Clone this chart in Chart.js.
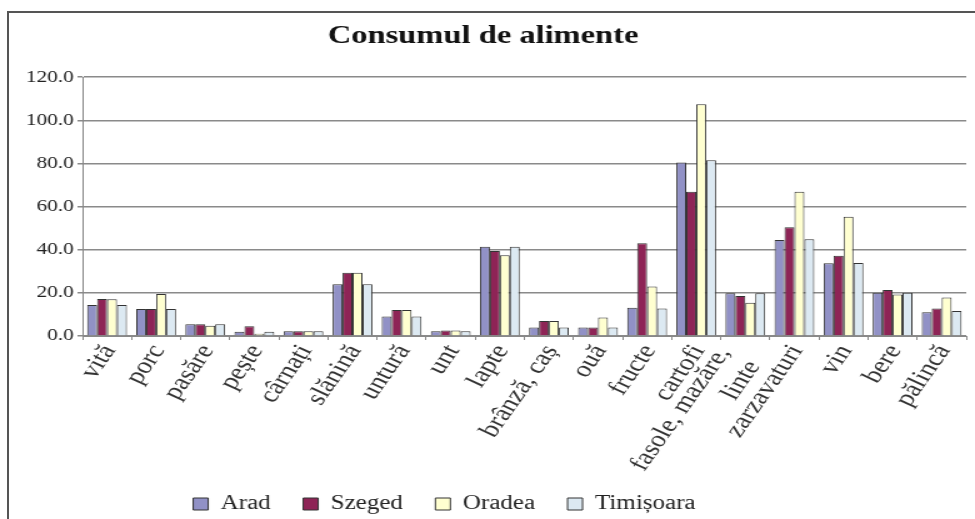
<!DOCTYPE html>
<html>
<head>
<meta charset="utf-8">
<script src="https://cdn.jsdelivr.net/npm/chart.js@4.4.0/dist/chart.umd.min.js"></script>
<style>
  html, body { margin: 0; padding: 0; background: #fff; overflow: hidden; }
  #frame { position: absolute; left: 7px; top: 11px; width: 1000px; height: 600px; border: 2px solid #555; }
  #wrap { position: absolute; left: 0; top: 0; width: 780px; height: 519px; transform: scaleX(1.25); transform-origin: 0 0; }
</style>
</head>
<body>
<div id="frame"></div>
<div id="wrap"><canvas id="c" width="780" height="519"></canvas></div>
<script>
// Categories and values (kg / persoană / an)
var categories = ["vită", "porc", "pasăre", "pește", "cârnați", "slănină", "untură", "unt", "lapte",
    "brânză, caș", "ouă", "fructe", "cartofi", ["fasole, mazăre,", "linte"], "zarzavaturi", "vin", "bere", "pălincă"];
var arad      = [14.4, 12.5, 5.4, 2.0, 2.2, 24.0, 9.0, 2.2, 41.4, 3.9, 3.9, 13.1, 80.5, 19.8, 44.5, 33.7, 20.1, 11.0];
var szeged    = [17.1, 12.5, 5.4, 4.5, 2.2, 29.3, 12.0, 2.6, 39.4, 7.0, 3.9, 43.0, 66.9, 18.5, 50.4, 37.2, 21.3, 12.8];
var oradea    = [17.0, 19.5, 4.8, 1.0, 2.2, 29.3, 12.0, 2.6, 37.5, 7.0, 8.6, 22.9, 107.5, 15.4, 66.9, 55.3, 19.3, 17.9];
var timisoara = [14.4, 12.5, 5.4, 2.0, 2.2, 24.0, 9.0, 2.2, 41.4, 3.9, 3.9, 12.7, 81.5, 19.8, 44.9, 33.9, 20.1, 11.6];
var seriesNames = ["Arad", "Szeged", "Oradea", "Timișoara"];
var seriesColors = ["#9191c6", "#8e2456", "#ffffd0", "#dce9f2"];
var yTicks = [0, 20, 40, 60, 80, 100, 120];

var serif = "'Liberation Serif', 'Times New Roman', serif";
var legendPad = 26;

// Move the legend to where the original has it, let the rotated
// category labels run past the x axis box, and place the two-line label
var labelFix = {
    id: "labelFix",
    afterLayout: function (chart) {
        var lg = chart.legend;
        var dx = -31, dy = 506 - (lg.top + legendPad + 12);
        lg.left += dx; lg.right += dx;
        lg.top += dy; lg.bottom += dy;
        chart.scales.x.bottom += 120;
    },
    beforeDraw: function (chart) {
        var xs = chart.scales.x;
        xs.getLabelItems().forEach(function (it, i) {
            if (!Array.isArray(it.label)) return;
            it.options.translation = [xs.getPixelForTick(i) - 17, xs.top + 13];
            it.options.textAlign = "right";
            it.options.textBaseline = "middle";
            it.textOffset = 0;
        });
    }
};

var values = [arad, szeged, oradea, timisoara];
var datasets = [];
for (var i = 0; i < seriesNames.length; i++) {
    datasets.push({
        label: seriesNames[i],
        data: values[i],
        backgroundColor: seriesColors[i],
        borderColor: "#333",
        borderWidth: 1,
        categoryPercentage: 0.81,
        barPercentage: 1.0
    });
}

new Chart(document.getElementById("c"), {
    type: "bar",
    data: { labels: categories, datasets: datasets },
    plugins: [labelFix],
    options: {
        responsive: false,
        animation: false,
        layout: { padding: { left: 0, right: 7, top: 0, bottom: 0 } },
        plugins: {
            title: {
                display: true,
                text: "Consumul de alimente",
                color: "#111",
                font: { family: serif, size: 26, weight: "bold" },
                padding: { top: 21, bottom: 25 }
            },
            legend: {
                position: "bottom",
                labels: {
                    color: "#222",
                    font: { family: serif, size: 20 },
                    boxWidth: 12,
                    boxHeight: 12,
                    padding: legendPad
                }
            },
            tooltip: { enabled: false }
        },
        scales: {
            x: {
                grid: { display: true, drawOnChartArea: false, drawTicks: true, tickLength: 4, color: "#888", offset: true },
                border: { color: "#888", width: 1 },
                ticks: {
                    color: "#333",
                    font: { family: serif, size: 23 },
                    minRotation: 60,
                    maxRotation: 60,
                    autoSkip: false,
                    padding: 0,
                    labelOffset: 2
                },
                afterFit: function (s) { s.height = 519 - s.chart.legend.height - 336; }
            },
            y: {
                min: 0,
                max: 120,
                afterBuildTicks: function (s) { s.ticks = yTicks.map(function (v) { return { value: v }; }); },
                grid: { color: "#8a8a8a", lineWidth: 1.5, tickLength: 4, drawTicks: true },
                border: { color: "#888", width: 1 },
                ticks: {
                    color: "#222",
                    font: { family: serif, size: 17 },
                    padding: 3,
                    callback: function (v) { return Number(v).toFixed(1); }
                },
                afterFit: function (s) { s.width = 66; }
            }
        }
    }
});
</script>
</body>
</html>
